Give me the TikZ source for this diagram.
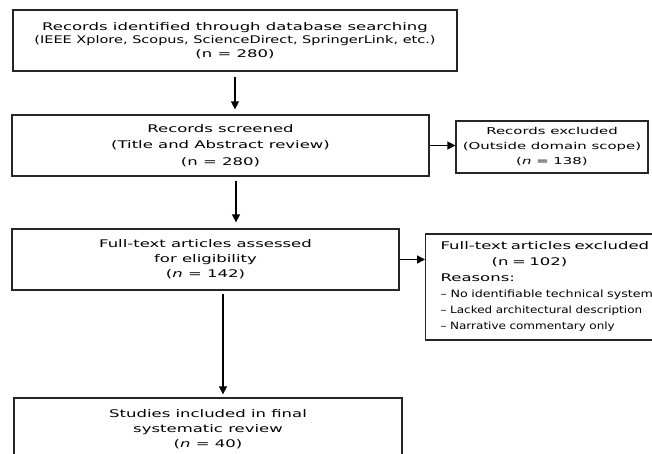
\documentclass[tikz,border=0pt]{standalone}
\usepackage{fontspec}
\setmainfont[FakeStretch=1.57]{DejaVu Sans}
\newfontfamily\sourcefont[FakeStretch=1.38]{DejaVu Sans}
\newfontfamily\reasonfont[FakeStretch=1.2]{DejaVu Sans}
\newfontfamily\reasonwide[FakeStretch=1.27]{DejaVu Sans}
\usetikzlibrary{arrows.meta,positioning,calc}
\tikzset{
  box/.style={draw=black!85, line width=1.3pt, inner sep=0pt, align=center},
  arr/.style={line width=1.5pt, -{Triangle[length=8pt,width=8pt]}},
}

\begin{document}
\begin{tikzpicture}[x=1pt,y=-1pt]
              \clip (0,0) rectangle (652,453);
              \node[box, minimum width=444pt, minimum height=61pt, font=\fontsize{10.5}{13.5}\selectfont] at (235,40.5) (ident) {Records identified through database searching\\{\sourcefont (IEEE Xplore, Scopus, ScienceDirect, SpringerLink, etc.)}\\(n = 280)};
              \node[box, minimum width=417pt, minimum height=61pt, font=\fontsize{10.5}{16.5}\selectfont] at (220.5,145.5) (screen) {Records screened\\(Title and Abstract review)\\(n = 280)};
              \node[box, minimum width=192pt, minimum height=52pt, font=\fontsize{9.5}{15}\selectfont] at (552,147) (recexcl) {Records excluded\\(Outside domain scope)\\(\textit{n} = 138)};
              \node[box, minimum width=387pt, minimum height=61pt, font=\fontsize{10.5}{15}\selectfont] at (205.5,259.5) (assess) {Full-text articles assessed\\for eligibility\\(\textit{n} = 142)};
              \node[box, align=left, text width=245pt, inner xsep=15pt, minimum height=106pt, anchor=west, font=\fontsize{10.5}{16}\selectfont] at (425,287) (fullexcl) {Full-text articles excluded\\\hspace*{51pt}(n = 102)\\Reasons:\\{\reasonwide\fontsize{10}{16}\selectfont – No identifiable technical system}\\{\reasonfont\fontsize{10}{16}\selectfont – Lacked architectural description}\\{\reasonfont\fontsize{10}{16}\selectfont – Narrative commentary only}};
              \node[box, minimum width=388pt, minimum height=62pt, font=\fontsize{10.5}{15}\selectfont] at (208,429) (incl) {Studies included in final\\systematic review\\(\textit{n} = 40)};

              \coordinate (c1) at (235,0);
              \coordinate (c2) at (236,0);
              \coordinate (c3) at (223,0);

              \draw[arr, shorten <=5pt, shorten >=5pt] (ident.south -| c1) -- (screen.north -| c1);
              \draw[arr, shorten <=4pt, shorten >=6pt] (screen.south -| c2) -- (assess.north -| c2);
              \draw[arr, shorten <=3pt, shorten >=3pt] (assess.south -| c3) -- (incl.north -| c3);
              \draw[arr] (screen.east) -- (screen.east -| recexcl.west);
              \draw[arr] (assess.east) -- (assess.east -| fullexcl.west);
            \end{tikzpicture}
\end{document}
